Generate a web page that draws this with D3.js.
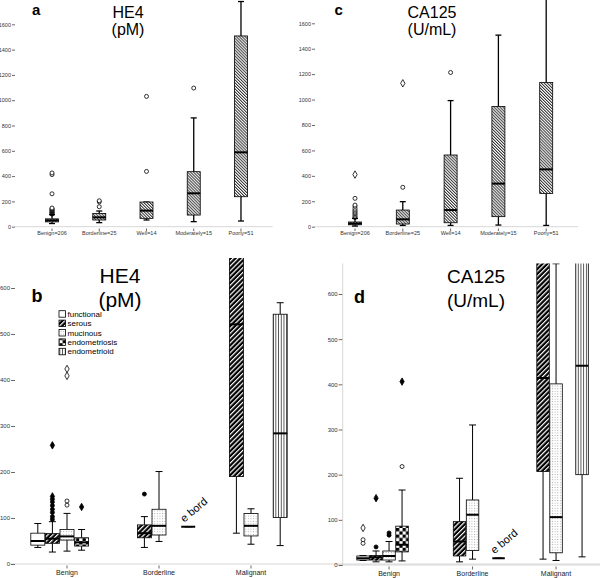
<!DOCTYPE html>
<html>
<head>
<meta charset="utf-8">
<script src="https://cdn.jsdelivr.net/npm/d3@7"></script>
<style>
  body { margin: 0; background: #fff; }
  svg { display: block; }
  text { font-family: "Liberation Sans", Arial, sans-serif; }
</style>
</head>
<body>
<svg id="chart" width="600" height="578"></svg>
<script>
// ---- data ----
const gradeCats = ["Benign=206", "Borderline=25", "Well=14", "Moderately=15", "Poorly=51"];
const gradeTicks = [0, 200, 400, 600, 800, 1000, 1200, 1400, 1600];
// [low whisker, q1, median, q3, high whisker]
const he4Grade = [[25, 38, 50, 62, 95], [32, 53, 74, 105, 124], [53, 66, 127, 195, 195], [40, 92, 264, 435, 860], [45, 237, 588, 1508, 1780]];
const he4GradeOut = [
  [[100, "f"], [106, "f"], [112, "f"], [118, "o"], [124, "f"], [130, "o"], [136, "f"], [142, "o"], [148, "o"], [260, "o"], [412, "o"], [425, "o"]],
  [[158, "o"], [196, "o"], [205, "o"]],
  [[437, "o"], [1030, "o"]],
  [[1096, "o"]],
  []
];
const ca125Grade = [[5, 15, 25, 37, 65], [10, 21, 58, 131, 197], [10, 31, 131, 564, 992], [13, 79, 339, 945, 1507], [10, 262, 451, 1134, 1850]];
const ca125GradeOut = [
  [[72, "f"], [82, "o"], [92, "o"], [102, "o"], [112, "o"], [122, "o"], [132, "o"], [145, "o"], [160, "o"], [170, "o"], [223, "o"], [410, "d"]],
  [[310, "o"], [1128, "d"]],
  [[1213, "o"]],
  [],
  []
];

const groups = ["Benign", "Borderline", "Malignant"];
const subtypes = ["functional", "serous", "mucinous", "endometriosis", "endometrioid"];
const subTicks = [0, 100, 200, 300, 400, 500, 600];
// group, subtype, low whisker, q1, median, q3, high whisker
const he4Sub = [
  ["Benign", "functional", 36, 41, 50, 67, 88],
  ["Benign", "serous", 26, 45, 55, 66, 92],
  ["Benign", "mucinous", 28, 52, 60, 75, 110],
  ["Benign", "endometriosis", 30, 39, 47, 57, 75],
  ["Borderline", "serous", 36, 57, 67, 85, 103],
  ["Borderline", "mucinous", 49, 63, 83, 119, 201],
  ["Borderline", "endometrioid", 81, 81, 81, 81, 81],
  ["Malignant", "serous", 67, 190, 521, 800, 900],
  ["Malignant", "mucinous", 43, 61, 83, 110, 120],
  ["Malignant", "endometrioid", 40, 101, 284, 543, 568]
];
// group, subtype, value, marker (o open circle, d open diamond, f filled circle, D filled diamond)
const he4SubOut = [
  ["Benign", "serous", 97, "f"], ["Benign", "serous", 103, "f"], ["Benign", "serous", 112, "f"],
  ["Benign", "serous", 119, "f"], ["Benign", "serous", 127, "f"], ["Benign", "serous", 135, "f"],
  ["Benign", "serous", 141, "D"], ["Benign", "serous", 147, "D"], ["Benign", "serous", 258, "D"],
  ["Benign", "mucinous", 128, "o"], ["Benign", "mucinous", 137, "o"],
  ["Benign", "mucinous", 409, "d"], ["Benign", "mucinous", 424, "d"],
  ["Benign", "endometriosis", 124, "D"],
  ["Borderline", "serous", 152, "f"]
];
const ca125Sub = [
  ["Benign", "functional", 10, 11, 15, 20, 21],
  ["Benign", "serous", 7, 11, 17, 21, 31],
  ["Benign", "mucinous", 7, 11, 20, 31, 52],
  ["Benign", "endometriosis", 9, 29, 45, 86, 166],
  ["Borderline", "serous", 7, 20, 52, 96, 192],
  ["Borderline", "mucinous", 13, 32, 111, 144, 310],
  ["Borderline", "endometrioid", 15, 15, 15, 15, 15],
  ["Malignant", "serous", 13, 207, 414, 800, 900],
  ["Malignant", "mucinous", 10, 27, 106, 401, 667],
  ["Malignant", "endometrioid", 18, 200, 441, 800, 900]
];
const ca125SubOut = [
  ["Benign", "functional", 48, "o"], ["Benign", "functional", 56, "o"], ["Benign", "functional", 82, "d"],
  ["Benign", "serous", 40, "f"], ["Benign", "serous", 148, "D"],
  ["Benign", "mucinous", 66, "f"], ["Benign", "mucinous", 71, "f"],
  ["Benign", "endometriosis", 218, "o"], ["Benign", "endometriosis", 406, "D"]
];

// ---- drawing ----
const svg = d3.select("#chart");
const defs = svg.append("defs");

function stripes(id, w, angle, bg, fg, lw) {
  const p = defs.append("pattern").attr("id", id).attr("patternUnits", "userSpaceOnUse")
    .attr("width", w).attr("height", w).attr("patternTransform", "rotate(" + angle + ")");
  p.append("rect").attr("width", w).attr("height", w).attr("fill", bg);
  p.append("rect").attr("width", lw).attr("height", w).attr("fill", fg);
}
stripes("hatchGray", 2.1, -45, "#fff", "#333", 1.0);
stripes("pat-serous", 3.4, 45, "#000", "#fff", 1.2);
stripes("pat-endometrioid", 2.7, 0, "#fff", "#333", 0.8);

const dots = defs.append("pattern").attr("id", "pat-mucinous").attr("patternUnits", "userSpaceOnUse")
  .attr("width", 2.6).attr("height", 2.6);
dots.append("rect").attr("width", 2.6).attr("height", 2.6).attr("fill", "#fff");
dots.append("rect").attr("x", 1).attr("y", 1).attr("width", 0.8).attr("height", 0.8).attr("fill", "#888");

const checker = defs.append("pattern").attr("id", "pat-endometriosis").attr("patternUnits", "userSpaceOnUse")
  .attr("width", 6.6).attr("height", 6.6);
checker.append("rect").attr("width", 6.6).attr("height", 6.6).attr("fill", "#fff");
checker.append("rect").attr("width", 3.3).attr("height", 3.3).attr("fill", "#000");
checker.append("rect").attr("x", 3.3).attr("y", 3.3).attr("width", 3.3).attr("height", 3.3).attr("fill", "#000");

const subFill = {
  functional: "#fff",
  serous: "url(#pat-serous)",
  mucinous: "url(#pat-mucinous)",
  endometriosis: "url(#pat-endometriosis)",
  endometrioid: "url(#pat-endometrioid)"
};

function drawBox(g, cx, w, capW, y, s, fill, whiskerW) {
  const lo = s[0], q1 = s[1], med = s[2], q3 = s[3], hi = s[4];
  g.append("line").attr("x1", cx).attr("x2", cx).attr("y1", y(lo)).attr("y2", y(q1))
    .attr("stroke", "#000").attr("stroke-width", whiskerW);
  g.append("line").attr("x1", cx).attr("x2", cx).attr("y1", y(q3)).attr("y2", y(hi))
    .attr("stroke", "#000").attr("stroke-width", whiskerW);
  [lo, hi].forEach(function(v) {
    g.append("line").attr("x1", cx - capW / 2).attr("x2", cx + capW / 2).attr("y1", y(v)).attr("y2", y(v))
      .attr("stroke", "#000").attr("stroke-width", whiskerW);
  });
  g.append("rect").attr("x", cx - w / 2).attr("y", y(q3)).attr("width", w)
    .attr("height", Math.max(0, y(q1) - y(q3)))
    .attr("fill", fill).attr("stroke", "#000").attr("stroke-width", 0.8);
  g.append("line").attr("x1", cx - w / 2).attr("x2", cx + w / 2).attr("y1", y(med)).attr("y2", y(med))
    .attr("stroke", "#000").attr("stroke-width", 2);
}

function drawOutlier(g, cx, cy, kind) {
  if (kind === "o" || kind === "f") {
    g.append("circle").attr("cx", cx).attr("cy", cy).attr("r", 2)
      .attr("fill", kind === "f" ? "#000" : "#fff").attr("stroke", "#000").attr("stroke-width", 0.8);
  } else {
    g.append("path").attr("transform", "translate(" + cx + "," + cy + ")")
      .attr("d", d3.symbol(d3.symbolDiamond, 16)())
      .attr("fill", kind === "D" ? "#000" : "#fff").attr("stroke", "#000").attr("stroke-width", 0.8);
  }
}

function gradePanel(ox, xRange, y1600, stats, outs, title, unit, letter) {
  const g = svg.append("g").attr("transform", "translate(" + ox + ",0)");
  const x = d3.scaleBand().domain(gradeCats).range(xRange);
  const y = d3.scaleLinear().domain([0, 1600]).range([226.7, y1600]);

  g.append("line").attr("x1", 15).attr("x2", xRange[1] + 8).attr("y1", y(0)).attr("y2", y(0))
    .attr("stroke", "#ccc").attr("stroke-width", 0.8);

  const ya = g.append("g").attr("transform", "translate(15,0)")
    .call(d3.axisLeft(y).tickValues(gradeTicks).tickFormat(d3.format("d")).tickSize(3).tickPadding(1));
  ya.select(".domain").remove();
  ya.selectAll("line").attr("stroke", "#444").attr("stroke-width", 0.8);
  ya.selectAll("text").attr("font-size", 5.5).attr("fill", "#333").attr("font-family", null);

  gradeCats.forEach(function(c, i) {
    const cx = x(c) + x.bandwidth() / 2;
    g.append("line").attr("x1", cx).attr("x2", cx).attr("y1", 228.5).attr("y2", 231)
      .attr("stroke", "#444").attr("stroke-width", 0.8);
    g.append("text").attr("x", cx).attr("y", 235).attr("text-anchor", "middle")
      .attr("font-size", 5.5).attr("fill", "#333").text(c);
    drawBox(g, cx, 13, 6, y, stats[i], "url(#hatchGray)", 1.3);
    outs[i].forEach(function(o) { drawOutlier(g, cx, y(o[0]), o[1]); });
  });

  g.append("text").attr("x", xRange[0] + 3.5).attr("y", 15).attr("font-size", 15)
    .attr("font-weight", "bold").text(letter);
  const tx = (letter === "a") ? 128 : 132;
  g.append("text").attr("x", tx).attr("y", 18).attr("text-anchor", "middle").attr("font-size", 16).text(title);
  g.append("text").attr("x", tx).attr("y", 35).attr("text-anchor", "middle").attr("font-size", 16).text(unit);
}

function subtypePanel(axisX, xRange, y0, y600, top, rows, outs, subStep, boxW, id) {
  const g = svg.append("g");
  const x = d3.scaleBand().domain(groups).range(xRange);
  const sx = d3.scaleBand().domain(subtypes).range([-2.5 * subStep, 2.5 * subStep]);
  const y = d3.scaleLinear().domain([0, 600]).range([y0, y600]);
  const cxOf = function(grp, sub) { return x(grp) + x.bandwidth() / 2 + sx(sub) + sx.bandwidth() / 2; };

  defs.append("clipPath").attr("id", id).append("rect")
    .attr("x", axisX).attr("y", top).attr("width", 600 - axisX).attr("height", y0 - top + 2);

  g.append("line").attr("x1", axisX - 5).attr("x2", 600).attr("y1", y0).attr("y2", y0)
    .attr("stroke", "#ccc").attr("stroke-width", 0.8);

  const ya = g.append("g").attr("transform", "translate(" + axisX + ",0)")
    .call(d3.axisLeft(y).tickValues(subTicks).tickSize(4).tickPadding(1));
  ya.select(".domain").remove();
  ya.selectAll("line").attr("stroke", "#444").attr("stroke-width", 0.8);
  ya.selectAll("text").attr("font-size", 6).attr("fill", "#333").attr("font-family", null);

  groups.forEach(function(grp) {
    const cx = x(grp) + x.bandwidth() / 2;
    g.append("line").attr("x1", cx).attr("x2", cx).attr("y1", y0 + 1.5).attr("y2", y0 + 4.5)
      .attr("stroke", "#444").attr("stroke-width", 0.8);
    g.append("text").attr("x", cx).attr("y", y0 + 11).attr("text-anchor", "middle")
      .attr("font-size", 7).attr("fill", "#222").text(grp);
  });

  const plot = g.append("g").attr("clip-path", "url(#" + id + ")");
  rows.forEach(function(r) {
    const cx = cxOf(r[0], r[1]);
    drawBox(plot, cx, boxW, 7, y, r.slice(2), subFill[r[1]], 1);
    if (r[0] === "Borderline" && r[1] === "endometrioid") {
      g.append("text").attr("transform", "translate(" + (cx - 4) + "," + (y(r[4]) - 4) + ") rotate(-40)")
        .attr("font-size", 11).text("e bord");
    }
  });
  outs.forEach(function(o) { drawOutlier(plot, cxOf(o[0], o[1]), y(o[2]), o[3]); });
  return g;
}

gradePanel(0, [28.4, 264.6], 24.3, he4Grade, he4GradeOut, "HE4", "(pM)", "a");
gradePanel(300, [31.1, 270.1], 23.3, ca125Grade, ca125GradeOut, "CA125", "(U/mL)", "c");

subtypePanel(15, [21, 297], 564, 288, 258, he4Sub, he4SubOut, 14.6, 14, "clipB");
const pd = subtypePanel(342.7, [347.3, 597.8], 565, 294, 263.5, ca125Sub, ca125SubOut, 13, 12.5, "clipD");
pd.append("line").attr("x1", 342.7).attr("x2", 342.7).attr("y1", 263.5).attr("y2", 565)
  .attr("stroke", "#ccc").attr("stroke-width", 0.8);

// legend in panel b
const legend = svg.append("g");
subtypes.forEach(function(s, i) {
  const ly = 314 + i * 9.4;
  legend.append("rect").attr("x", 59).attr("y", ly - 3.3).attr("width", 6.5).attr("height", 6.5)
    .attr("fill", subFill[s]).attr("stroke", "#000").attr("stroke-width", 0.8);
  legend.append("text").attr("x", 67.5).attr("y", ly + 2.8).attr("font-size", 8).text(s);
});

// titles of lower panels
svg.append("text").attr("x", 31.5).attr("y", 302).attr("font-size", 18).attr("font-weight", "bold").text("b");
svg.append("text").attr("x", 120).attr("y", 283).attr("text-anchor", "middle").attr("font-size", 21).text("HE4");
svg.append("text").attr("x", 120).attr("y", 307).attr("text-anchor", "middle").attr("font-size", 21).text("(pM)");
svg.append("text").attr("x", 354).attr("y", 303).attr("font-size", 18).attr("font-weight", "bold").text("d");
svg.append("text").attr("x", 476).attr("y", 283).attr("text-anchor", "middle").attr("font-size", 19).text("CA125");
svg.append("text").attr("x", 476).attr("y", 307).attr("text-anchor", "middle").attr("font-size", 19).text("(U/mL)");
</script>
</body>
</html>
